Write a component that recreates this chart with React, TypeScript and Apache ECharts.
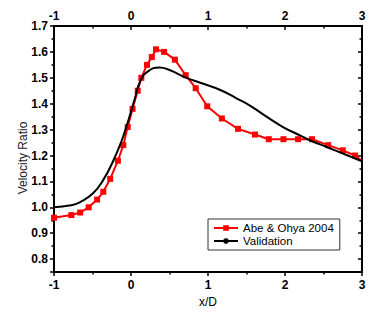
import React, { useEffect, useRef } from "react";
import * as echarts from "echarts";

const abeX = [-1, -0.775, -0.66, -0.55, -0.44, -0.36, -0.27, -0.17, -0.1, -0.043, 0.02, 0.087, 0.134, 0.208, 0.27, 0.325, 0.43, 0.57, 0.71, 0.84, 0.99, 1.18, 1.39, 1.61, 1.79, 1.98, 2.17, 2.35, 2.56, 2.75, 2.91, 3.0];
const abeY = [0.96, 0.97, 0.98, 1.0, 1.03, 1.06, 1.11, 1.18, 1.24, 1.31, 1.38, 1.45, 1.5, 1.55, 1.58, 1.61, 1.6, 1.57, 1.51, 1.46, 1.39, 1.343, 1.303, 1.281, 1.263, 1.263, 1.263, 1.263, 1.24, 1.22, 1.2, 1.18];

const valX = [-1, -0.78, -0.66, -0.49, -0.36, -0.23, -0.12, -0.035, 0.05, 0.12, 0.22, 0.37, 0.5, 0.72, 0.9, 1.16, 1.37, 1.55, 1.76, 1.98, 2.2, 2.33, 2.54, 2.76, 3.0];
const valY = [1.0, 1.008, 1.02, 1.055, 1.106, 1.18, 1.258, 1.335, 1.42, 1.487, 1.525, 1.54, 1.53, 1.5, 1.481, 1.453, 1.421, 1.392, 1.35, 1.309, 1.277, 1.258, 1.233, 1.207, 1.178];

const xTickLabels = ["-1", "0", "1", "2", "3"];
const yTickLabels = ["0.8", "0.9", "1.0", "1.1", "1.2", "1.3", "1.4", "1.5", "1.6", "1.7"];

const seriesNames = ["Abe & Ohya 2004", "Validation"];
const yAxisTitle = "Velocity Ratio";
const xAxisTitle = "x/D";

export default function App() {
  const ref = useRef<HTMLDivElement>(null);
  useEffect(() => {
    document.body.style.margin = "0";
    const chart = echarts.init(ref.current!, null, { renderer: "svg" });
    const font = "Arial, 'Liberation Sans', sans-serif";
    const axisLine = { show: true, onZero: false, lineStyle: { color: "#000", width: 2 } };
    const labelStyle = { color: "#000", fontWeight: "bold" as const, fontSize: 12, fontFamily: font };
    const tickStyle = { color: "#000", width: 1.5 };
    const xFmt = (v: number) => {
      const s = String(Math.round(v));
      return xTickLabels.includes(s) && Math.abs(v - Math.round(v)) < 1e-6 ? s : "";
    };
    const yFmt = (v: number) => {
      const s = v.toFixed(1);
      return yTickLabels.includes(s) && Math.abs(v * 10 - Math.round(v * 10)) < 1e-6 ? s : "";
    };
    const lastIdx = abeX.length - 1;
    chart.setOption({
      animation: false,
      backgroundColor: "#fff",
      grid: { left: 54, right: 26, top: 26, bottom: 36 },
      legend: {
        orient: "vertical",
        left: 208,
        top: 219,
        padding: [3, 6, 3, 5],
        itemGap: 1,
        itemWidth: 24,
        itemHeight: 7,
        borderColor: "#333",
        borderWidth: 1,
        data: seriesNames,
        textStyle: { color: "#000", fontSize: 11.5, fontFamily: font, lineHeight: 12 },
      },
      graphic: [
        {
          type: "text",
          x: 23,
          y: 158,
          rotation: Math.PI / 2,
          style: {
            text: yAxisTitle,
            fill: "#222",
            fontSize: 12,
            fontFamily: font,
            textAlign: "center",
            textVerticalAlign: "middle",
          },
        },
      ],
      xAxis: [
        {
          type: "value",
          position: "bottom",
          min: -1,
          max: 3,
          interval: 1,
          name: xAxisTitle,
          nameLocation: "middle",
          nameGap: 18,
          nameTextStyle: { color: "#000", fontSize: 12, fontFamily: font },
          axisLine,
          axisTick: { show: true, inside: false, length: 4, lineStyle: tickStyle },
          minorTick: { show: true, splitNumber: 2, length: 2.5, lineStyle: tickStyle },
          axisLabel: { ...labelStyle, margin: 7, formatter: xFmt },
          splitLine: { show: false },
        },
        {
          type: "value",
          position: "top",
          min: -1,
          max: 3,
          interval: 1,
          axisLine,
          axisTick: { show: true, inside: true, length: 4, lineStyle: tickStyle },
          minorTick: { show: true, splitNumber: 2, length: 2.5, lineStyle: tickStyle },
          axisLabel: { ...labelStyle, margin: 4, formatter: xFmt },
          splitLine: { show: false },
        },
      ],
      yAxis: [
        {
          type: "value",
          position: "left",
          min: 0.75,
          max: 1.7,
          splitNumber: 10,
          axisLine,
          axisTick: { show: true, inside: false, length: 4, lineStyle: tickStyle },
          minorTick: { show: true, splitNumber: 2, length: 2.5, lineStyle: tickStyle },
          axisLabel: { ...labelStyle, margin: 6, formatter: yFmt },
          splitLine: { show: false },
        },
        {
          type: "value",
          position: "right",
          min: 0.75,
          max: 1.7,
          splitNumber: 10,
          axisLine,
          axisTick: { show: true, inside: true, length: 4, lineStyle: tickStyle },
          minorTick: { show: true, splitNumber: 2, length: 2.5, lineStyle: tickStyle },
          axisLabel: { show: false },
          splitLine: { show: false },
        },
      ],
      series: [
        {
          name: seriesNames[0],
          type: "line",
          xAxisIndex: 0,
          yAxisIndex: 0,
          data: abeX.map((x, i) =>
            i === lastIdx ? { value: [x, abeY[i]], symbol: "none" } : [x, abeY[i]]
          ),
          symbol: "rect",
          symbolSize: 6,
          showAllSymbol: true,
          lineStyle: { color: "#ff0000", width: 2 },
          itemStyle: { color: "#ff0000" },
          clip: true,
          z: 2,
        },
        {
          name: seriesNames[1],
          type: "line",
          xAxisIndex: 0,
          yAxisIndex: 0,
          data: valX.map((x, i) => [x, valY[i]]),
          symbol: "none",
          smooth: 0.5,
          lineStyle: { color: "#000", width: 2 },
          itemStyle: { color: "#000" },
          clip: true,
          z: 3,
        },
      ],
    });
    return () => chart.dispose();
  }, []);
  return <div ref={ref} style={{ width: 388, height: 313 }} />;
}
